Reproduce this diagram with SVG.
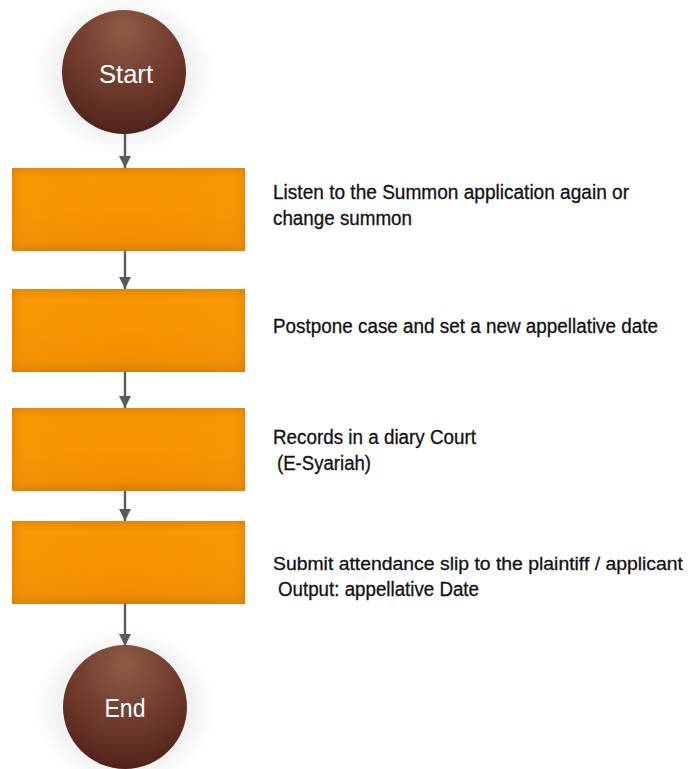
<svg xmlns="http://www.w3.org/2000/svg" width="691" height="769" viewBox="0 0 691 769">
<defs>
<radialGradient id="ball" cx="0.5" cy="0.25" r="0.8" fx="0.5" fy="0.15">
<stop offset="0" stop-color="#8e5c46"/>
<stop offset="0.55" stop-color="#6e3a2c"/>
<stop offset="0.9" stop-color="#55251d"/>
<stop offset="1" stop-color="#3e1812"/>
</radialGradient>
<linearGradient id="boxV" x1="0" y1="0" x2="0" y2="1">
<stop offset="0" stop-color="#e38400"/>
<stop offset="0.12" stop-color="#f79600"/>
<stop offset="0.5" stop-color="#f89400"/>
<stop offset="0.88" stop-color="#f08c00"/>
<stop offset="1" stop-color="#d97d00"/>
</linearGradient>
<linearGradient id="boxH" x1="0" y1="0" x2="1" y2="0">
<stop offset="0" stop-color="#e08000" stop-opacity="0.5"/>
<stop offset="0.06" stop-color="#ffa21a" stop-opacity="0.15"/>
<stop offset="0.5" stop-color="#ffa21a" stop-opacity="0"/>
<stop offset="0.94" stop-color="#ffa21a" stop-opacity="0.15"/>
<stop offset="1" stop-color="#e08000" stop-opacity="0.5"/>
</linearGradient>
<filter id="glow" x="-30%" y="-30%" width="160%" height="160%">
<feGaussianBlur stdDeviation="8"/>
</filter>
<marker id="arr" viewBox="0 0 10 10" refX="10" refY="5" markerWidth="5" markerHeight="5" orient="auto" markerUnits="strokeWidth">
<path d="M0,0 L10,5 L0,10 z" fill="#5a5a5a"/>
</marker>
</defs>
<style>
.lbl{font-family:"Liberation Sans",Arial,sans-serif;font-size:20px;fill:#111;stroke:#111;stroke-width:0.3;}
.sm{font-size:19px;}
.term{font-family:"Liberation Sans",Arial,sans-serif;font-size:26px;fill:#fff;text-anchor:middle;}
.conn{stroke:#5a5a5a;stroke-width:2.4;fill:none;}
</style>
<rect width="691" height="769" fill="#fff"/>
<g id="start">
<ellipse cx="124" cy="74" rx="80" ry="70" fill="#f2f2f2" filter="url(#glow)"/>
<circle cx="124" cy="72" r="62" fill="url(#ball)"/>
<text class="term" x="126" y="83" textLength="54" lengthAdjust="spacingAndGlyphs">Start</text>
</g>
<g id="step1">
<rect x="12" y="168" width="233" height="83" fill="url(#boxV)"/>
<rect x="12" y="168" width="233" height="83" fill="url(#boxH)"/>
<text class="lbl" x="273" y="199" textLength="356" lengthAdjust="spacingAndGlyphs">Listen to the Summon application again or</text>
<text class="lbl" x="273" y="225" textLength="139" lengthAdjust="spacingAndGlyphs">change summon</text>
</g>
<g id="step2">
<rect x="12" y="289" width="233" height="83" fill="url(#boxV)"/>
<rect x="12" y="289" width="233" height="83" fill="url(#boxH)"/>
<text class="lbl" x="273" y="333" textLength="385" lengthAdjust="spacingAndGlyphs">Postpone case and set a new appellative date</text>
</g>
<g id="step3">
<rect x="12" y="408" width="233" height="83" fill="url(#boxV)"/>
<rect x="12" y="408" width="233" height="83" fill="url(#boxH)"/>
<text class="lbl" x="273" y="444" textLength="203" lengthAdjust="spacingAndGlyphs">Records in a diary Court</text>
<text class="lbl" x="277" y="470" textLength="94" lengthAdjust="spacingAndGlyphs">(E-Syariah)</text>
</g>
<g id="step4">
<rect x="12" y="521" width="233" height="83" fill="url(#boxV)"/>
<rect x="12" y="521" width="233" height="83" fill="url(#boxH)"/>
<text class="lbl sm" x="273" y="570" textLength="410" lengthAdjust="spacingAndGlyphs">Submit attendance slip to the plaintiff / applicant</text>
<text class="lbl" x="278" y="596" textLength="201" lengthAdjust="spacingAndGlyphs">Output: appellative Date</text>
</g>
<g id="end">
<ellipse cx="125" cy="708" rx="80" ry="70" fill="#f2f2f2" filter="url(#glow)"/>
<circle cx="125" cy="707" r="62" fill="url(#ball)"/>
<text class="term" x="125" y="717" textLength="41" lengthAdjust="spacingAndGlyphs">End</text>
</g>
<g id="connectors">
<line class="conn" x1="125" y1="134" x2="125" y2="168" marker-end="url(#arr)"/>
<line class="conn" x1="125" y1="251" x2="125" y2="289" marker-end="url(#arr)"/>
<line class="conn" x1="125" y1="372" x2="125" y2="408" marker-end="url(#arr)"/>
<line class="conn" x1="125" y1="491" x2="125" y2="521" marker-end="url(#arr)"/>
<line class="conn" x1="125" y1="604" x2="125" y2="646" marker-end="url(#arr)"/>
</g>
</svg>
